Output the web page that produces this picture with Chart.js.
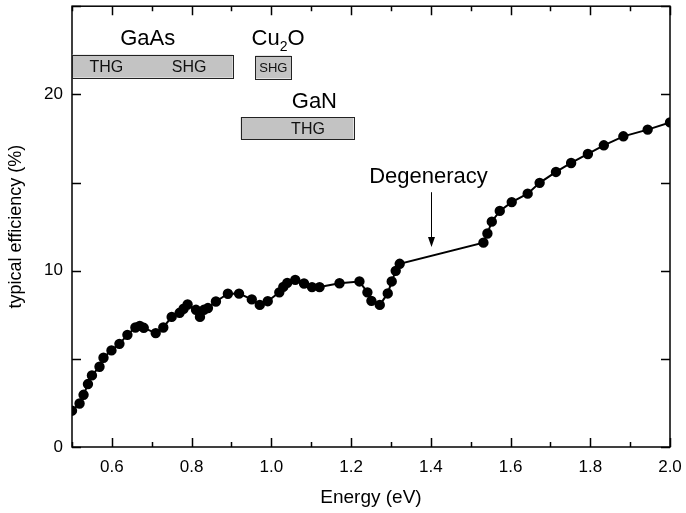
<!DOCTYPE html>
<html>
<head>
<meta charset="utf-8">
<script src="https://cdn.jsdelivr.net/npm/chart.js@4.4.1/dist/chart.umd.min.js"></script>
<style>
  html, body { margin: 0; padding: 0; background: #fff; }
  #wrap { width: 686px; height: 513px; }
</style>
</head>
<body>
<div id="wrap"><canvas id="chart"></canvas></div>
<script>
// === data ===
const energy = [
  0.500, 0.519, 0.529, 0.540, 0.550, 0.569, 0.579, 0.599, 0.619, 0.639,
  0.659, 0.670, 0.680, 0.710, 0.729, 0.750, 0.770, 0.780, 0.790, 0.811,
  0.821, 0.831, 0.841, 0.861, 0.891, 0.919, 0.951, 0.971, 0.991, 1.020,
  1.030, 1.040, 1.060, 1.082, 1.102, 1.121, 1.171, 1.221, 1.241, 1.251,
  1.272, 1.292, 1.302, 1.312, 1.322, 1.532, 1.542, 1.553, 1.573, 1.603,
  1.643, 1.673, 1.714, 1.752, 1.794, 1.834, 1.883, 1.944, 2.000
];
const efficiency = [
  2.06, 2.47, 2.96, 3.57, 4.06, 4.55, 5.06, 5.48, 5.85, 6.36,
  6.78, 6.87, 6.76, 6.46, 6.78, 7.38, 7.61, 7.84, 8.08, 7.78,
  7.38, 7.78, 7.88, 8.25, 8.69, 8.70, 8.37, 8.06, 8.27, 8.77,
  9.08, 9.31, 9.48, 9.27, 9.07, 9.07, 9.29, 9.39, 8.77, 8.29,
  8.06, 8.71, 9.39, 9.99, 10.39, 11.59, 12.11, 12.78, 13.39, 13.89,
  14.37, 14.98, 15.60, 16.11, 16.62, 17.11, 17.62, 18.00, 18.41
];
const xTickLabels = [0.6, 0.8, 1.0, 1.2, 1.4, 1.6, 1.8, 2.0];
const yTickLabels = [0, 10, 20];
const xMinorStep = 0.1;
const yMinorStep = 5;

// harmonic ranges of the crystals (eV, %)
const boxNames  = ["GaAs", "Cu2O", "GaN"];
const boxLo     = [0.500, 0.960, 0.923];
const boxHi     = [0.903, 1.050, 1.206];
const boxBottom = [20.95, 20.90, 17.45];
const boxTop    = [22.25, 22.20, 18.71];
const boxTags   = [["THG", 0.586], ["SHG", 0.794], ["SHG", 1.005], ["THG", 1.092]];
const tagRow    = [0, 0, 1, 2];
const titleAt   = [[0.690, 23.15], [1.017, 23.15], [1.108, 19.55]];
const degeneracyAt = 1.40;

const FONT = "'Liberation Sans', Arial, sans-serif";

// frame + inward ticks on all four sides
const frameTicks = {
  id: "frameTicks",
  afterDatasetsDraw(chart) {
    const {ctx, chartArea: a, scales: {x, y}} = chart;
    ctx.save();
    ctx.strokeStyle = "#000";
    ctx.lineWidth = 1.5;
    ctx.strokeRect(a.left, a.top, a.right - a.left, a.bottom - a.top);
    ctx.beginPath();
    for (let v = 0.5; v <= 2.0001; v += xMinorStep) {
      const px = Math.round(x.getPixelForValue(v)) + 0.5;
      const major = xTickLabels.some(t => Math.abs(t - v) < 1e-6);
      const len = major ? 9 : 5;
      ctx.moveTo(px, a.bottom); ctx.lineTo(px, a.bottom - len);
      ctx.moveTo(px, a.top); ctx.lineTo(px, a.top + len);
    }
    for (let v = 0; v <= 25; v += yMinorStep) {
      const py = Math.round(y.getPixelForValue(v)) + 0.5;
      ctx.moveTo(a.left, py); ctx.lineTo(a.left + 9, py);
      ctx.moveTo(a.right, py); ctx.lineTo(a.right - 9, py);
    }
    ctx.stroke();
    ctx.restore();
  }
};

// crystal boxes, their labels and the degeneracy marker
const annotations = {
  id: "annotations",
  afterDatasetsDraw(chart) {
    const {ctx, scales: {x, y}} = chart;
    ctx.save();
    ctx.textAlign = "center";
    ctx.textBaseline = "middle";
    boxNames.forEach((name, i) => {
      const x0 = x.getPixelForValue(boxLo[i]), x1 = x.getPixelForValue(boxHi[i]);
      const y0 = y.getPixelForValue(boxTop[i]), y1 = y.getPixelForValue(boxBottom[i]);
      ctx.fillStyle = "#c3c3c3";
      ctx.fillRect(x0, y0, x1 - x0, y1 - y0);
      ctx.strokeStyle = "#222";
      ctx.lineWidth = 1;
      ctx.strokeRect(Math.round(x0) + 0.5, Math.round(y0) + 0.5, Math.round(x1 - x0), Math.round(y1 - y0));
    });
    boxTags.forEach(([tag, e], i) => {
      const b = tagRow[i];
      ctx.fillStyle = "#111";
      ctx.font = (b === 1 ? "13px " : "16px ") + FONT;
      ctx.fillText(tag, x.getPixelForValue(e), y.getPixelForValue((boxTop[b] + boxBottom[b]) / 2) + 1);
    });
    ctx.fillStyle = "#000";
    ctx.font = "22px " + FONT;
    ctx.fillText("GaAs", x.getPixelForValue(titleAt[0][0]), y.getPixelForValue(titleAt[0][1]));
    // Cu2O with subscript
    {
      const cx = x.getPixelForValue(titleAt[1][0]), cy = y.getPixelForValue(titleAt[1][1]);
      ctx.font = "22px " + FONT;
      const wCu = ctx.measureText("Cu").width, wO = ctx.measureText("O").width;
      ctx.font = "14px " + FONT;
      const w2 = ctx.measureText("2").width;
      const left = cx - (wCu + w2 + wO) / 2;
      ctx.textAlign = "left";
      ctx.font = "22px " + FONT;
      ctx.fillText("Cu", left, cy);
      ctx.font = "14px " + FONT;
      ctx.fillText("2", left + wCu, cy + 8);
      ctx.font = "22px " + FONT;
      ctx.fillText("O", left + wCu + w2, cy);
      ctx.textAlign = "center";
    }
    ctx.fillText("GaN", x.getPixelForValue(titleAt[2][0]), y.getPixelForValue(titleAt[2][1]));

    // degeneracy label + arrow
    const ax = Math.round(x.getPixelForValue(degeneracyAt)) + 0.5;
    ctx.fillText("Degeneracy", ax - 3, y.getPixelForValue(15.3));
    const yTop = y.getPixelForValue(14.45), yTip = y.getPixelForValue(11.35);
    ctx.strokeStyle = "#000";
    ctx.lineWidth = 1;
    ctx.beginPath();
    ctx.moveTo(ax, yTop); ctx.lineTo(ax, yTip - 6);
    ctx.stroke();
    ctx.beginPath();
    ctx.moveTo(ax, yTip); ctx.lineTo(ax - 3.5, yTip - 10); ctx.lineTo(ax + 3.5, yTip - 10);
    ctx.closePath();
    ctx.fill();
    ctx.restore();
  }
};

new Chart(document.getElementById("chart"), {
  type: "scatter",
  data: {
    datasets: [{
      data: energy.map((e, i) => ({x: e, y: efficiency[i]})),
      showLine: true,
      borderColor: "#000",
      borderWidth: 2,
      backgroundColor: "#000",
      pointRadius: 4.2,
      pointHoverRadius: 4.2,
      tension: 0
    }]
  },
  options: {
    responsive: true,
    maintainAspectRatio: false,
    animation: false,
    events: [],
    layout: {padding: {top: 5, right: 16, left: 0, bottom: 0}},
    plugins: {legend: {display: false}, tooltip: {enabled: false}},
    scales: {
      x: {
        type: "linear", min: 0.5, max: 2.0,
        afterBuildTicks: s => { s.ticks = xTickLabels.map(v => ({value: v})); },
        afterFit: s => { s.height = 66; s.paddingLeft = 0; s.paddingRight = 0; },
        grid: {display: false, drawTicks: false},
        border: {display: false},
        ticks: {
          padding: 10, color: "#000",
          font: {family: FONT, size: 17},
          callback: v => v.toFixed(1)
        },
        title: {display: true, text: "Energy (eV)", color: "#000",
                font: {family: FONT, size: 19}, padding: {top: 0, bottom: 4}}
      },
      y: {
        type: "linear", min: 0, max: 25,
        afterBuildTicks: s => { s.ticks = yTickLabels.map(v => ({value: v})); },
        afterFit: s => { s.width = 72; s.paddingTop = 0; s.paddingBottom = 0; },
        grid: {display: false, drawTicks: false},
        border: {display: false},
        ticks: {padding: 9, color: "#000", font: {family: FONT, size: 17}},
        title: {display: true, text: "typical efficiency (%)", color: "#000",
                font: {family: FONT, size: 18}, padding: {top: 5, bottom: 0}}
      }
    }
  },
  plugins: [frameTicks, annotations]
});
</script>
</body>
</html>
